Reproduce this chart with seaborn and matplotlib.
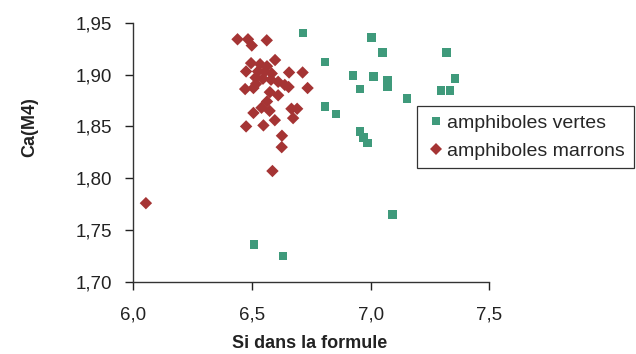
import numpy as np
import pandas as pd
import matplotlib
matplotlib.use("Agg")
import matplotlib.pyplot as plt
import seaborn as sns

# amphiboles vertes (squares)
si_vertes = [6.715, 6.807, 7.004, 7.048, 6.925, 7.010, 6.955, 7.071, 7.071, 6.807, 6.854,
             6.955, 6.968, 6.985, 7.153, 7.320, 7.355, 7.296, 7.334, 7.090, 6.508, 6.630]
ca_vertes = [1.940, 1.912, 1.936, 1.921, 1.899, 1.898, 1.886, 1.894, 1.888, 1.869, 1.862,
             1.845, 1.839, 1.834, 1.877, 1.921, 1.896, 1.885, 1.885, 1.765, 1.736, 1.725]

# amphiboles marrons (diamonds)
si_marrons = [6.439, 6.483, 6.499, 6.562, 6.597, 6.496, 6.534, 6.563, 6.475, 6.525, 6.555,
              6.583, 6.656, 6.713, 6.515, 6.546, 6.580, 6.610, 6.638, 6.654, 6.734, 6.471,
              6.506, 6.575, 6.610, 6.563, 6.540, 6.574, 6.506, 6.666, 6.690, 6.673, 6.596,
              6.548, 6.475, 6.626, 6.625, 6.586, 6.053, 6.517]
ca_marrons = [1.934, 1.934, 1.928, 1.933, 1.914, 1.911, 1.910, 1.908, 1.903, 1.903, 1.903,
              1.901, 1.902, 1.902, 1.897, 1.896, 1.895, 1.893, 1.890, 1.888, 1.887, 1.886,
              1.887, 1.883, 1.880, 1.874, 1.868, 1.865, 1.863, 1.867, 1.867, 1.858, 1.856,
              1.851, 1.850, 1.841, 1.830, 1.807, 1.776, 1.891]

groups = ["amphiboles vertes", "amphiboles marrons"]
x_ticks = [6.0, 6.5, 7.0, 7.5]
y_ticks = [1.70, 1.75, 1.80, 1.85, 1.90, 1.95]

df = pd.DataFrame({
    "si": si_vertes + si_marrons,
    "ca": ca_vertes + ca_marrons,
    "groupe": [groups[0]] * len(si_vertes) + [groups[1]] * len(si_marrons),
})

sns.set_style("white")
plt.rcParams["font.family"] = ["Liberation Sans", "DejaVu Sans"]

fig = plt.figure(figsize=(6.36, 3.54), dpi=100)
ax = fig.add_axes([0.2096, 0.2034, 0.56, 0.7325])

sns.scatterplot(data=df, x="si", y="ca", hue="groupe", style="groupe",
                hue_order=groups, style_order=groups,
                palette={groups[0]: "#3f9a7b", groups[1]: "#a53434"},
                markers={groups[0]: "s", groups[1]: "D"},
                s=40, linewidth=0, ax=ax)

ax.set_xlim(6.0, 7.5)
ax.set_ylim(1.70, 1.95)
ax.set_xticks(x_ticks)
ax.set_yticks(y_ticks)
ax.set_xticklabels([f"{v:.1f}".replace(".", ",") for v in x_ticks])
ax.set_yticklabels([f"{v:.2f}".replace(".", ",") for v in y_ticks])
ax.tick_params(axis="both", direction="out", length=6, width=1, labelsize=13.5,
               colors="#222222", left=True, bottom=True)
ax.tick_params(axis="y", pad=9)
ax.tick_params(axis="x", pad=12)
sns.despine(ax=ax)
for sp in ("left", "bottom"):
    ax.spines[sp].set_color("#333333")
    ax.spines[sp].set_linewidth(1)

ax.set_xlabel("Si dans la formule", fontsize=13, fontweight="bold", color="#222222")
ax.set_ylabel("Ca(M4)", fontsize=13, fontweight="bold", color="#222222")
ax.xaxis.set_label_coords(0.496, -0.205)
ax.yaxis.set_label_coords(-0.268, 0.598)

leg = ax.legend(loc="upper left", bbox_to_anchor=(0.797, 0.679), borderaxespad=0,
                frameon=True, fancybox=False, fontsize=14, handletextpad=0.1,
                borderpad=0.45, labelspacing=0.5, handlelength=1.0, markerscale=1.0)
leg.get_frame().set_edgecolor("black")
leg.get_frame().set_linewidth(0.9)
leg.set_clip_on(False)

fig.savefig("out.png", dpi=100)
